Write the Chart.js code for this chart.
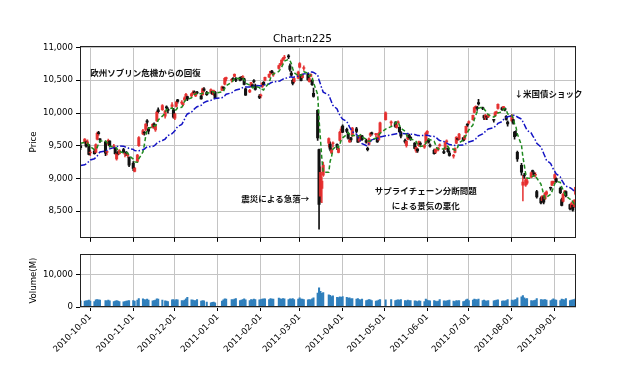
<!DOCTYPE html>
<html>
<head>
<meta charset="utf-8">
<script src="https://cdn.jsdelivr.net/npm/chart.js@4.4.1/dist/chart.umd.min.js"></script>
<style>
  html, body { margin: 0; padding: 0; background: #fff; }
  #wrap { position: relative; width: 640px; height: 384px; }
  #price { position: absolute; left: 0; top: 0; }
  #vol { position: absolute; left: 0; top: 246px; }
</style>
</head>
<body>
<div id="wrap">
  <canvas id="price" width="640" height="246"></canvas>
  <canvas id="vol" width="640" height="138"></canvas>
</div>
<script>
// ---- data (Nikkei 225, daily) ----
const dates = [
  '2010-09-24','2010-09-27','2010-09-28','2010-09-29','2010-09-30',
  '2010-10-01','2010-10-04','2010-10-05','2010-10-06','2010-10-07','2010-10-08','2010-10-12','2010-10-13','2010-10-14','2010-10-15',
  '2010-10-18','2010-10-19','2010-10-20','2010-10-21','2010-10-22','2010-10-25','2010-10-26','2010-10-27','2010-10-28','2010-10-29',
  '2010-11-01','2010-11-02','2010-11-04','2010-11-05','2010-11-08','2010-11-09','2010-11-10','2010-11-11','2010-11-12','2010-11-15',
  '2010-11-16','2010-11-17','2010-11-18','2010-11-19','2010-11-22','2010-11-24','2010-11-25','2010-11-26','2010-11-29','2010-11-30',
  '2010-12-01','2010-12-02','2010-12-03','2010-12-06','2010-12-07','2010-12-08','2010-12-09','2010-12-10','2010-12-13','2010-12-14',
  '2010-12-15','2010-12-16','2010-12-17','2010-12-20','2010-12-21','2010-12-22','2010-12-24','2010-12-27','2010-12-28','2010-12-29','2010-12-30',
  '2011-01-04','2011-01-05','2011-01-06','2011-01-07','2011-01-11','2011-01-12','2011-01-13','2011-01-14','2011-01-17','2011-01-18',
  '2011-01-19','2011-01-20','2011-01-21','2011-01-24','2011-01-25','2011-01-26','2011-01-27','2011-01-28','2011-01-31',
  '2011-02-01','2011-02-02','2011-02-03','2011-02-04','2011-02-07','2011-02-08','2011-02-09','2011-02-10','2011-02-14','2011-02-15',
  '2011-02-16','2011-02-17','2011-02-18','2011-02-21','2011-02-22','2011-02-23','2011-02-24','2011-02-25','2011-02-28',
  '2011-03-01','2011-03-02','2011-03-03','2011-03-04','2011-03-07','2011-03-08','2011-03-09','2011-03-10','2011-03-11','2011-03-14',
  '2011-03-15','2011-03-16','2011-03-17','2011-03-18','2011-03-22','2011-03-23','2011-03-24','2011-03-25','2011-03-28','2011-03-29','2011-03-30','2011-03-31',
  '2011-04-01','2011-04-04','2011-04-05','2011-04-06','2011-04-07','2011-04-08','2011-04-11','2011-04-12','2011-04-13','2011-04-14',
  '2011-04-15','2011-04-18','2011-04-19','2011-04-20','2011-04-21','2011-04-22','2011-04-25','2011-04-26','2011-04-27','2011-04-28',
  '2011-05-02','2011-05-06','2011-05-09','2011-05-10','2011-05-11','2011-05-12','2011-05-13','2011-05-16','2011-05-17','2011-05-18',
  '2011-05-19','2011-05-20','2011-05-23','2011-05-24','2011-05-25','2011-05-26','2011-05-27','2011-05-30','2011-05-31',
  '2011-06-01','2011-06-02','2011-06-03','2011-06-06','2011-06-07','2011-06-08','2011-06-09','2011-06-10','2011-06-13','2011-06-14',
  '2011-06-15','2011-06-16','2011-06-17','2011-06-20','2011-06-21','2011-06-22','2011-06-23','2011-06-24','2011-06-27','2011-06-28','2011-06-29','2011-06-30',
  '2011-07-01','2011-07-04','2011-07-05','2011-07-06','2011-07-07','2011-07-08','2011-07-11','2011-07-12','2011-07-13','2011-07-14',
  '2011-07-15','2011-07-19','2011-07-20','2011-07-21','2011-07-22','2011-07-25','2011-07-26','2011-07-27','2011-07-28','2011-07-29',
  '2011-08-01','2011-08-02','2011-08-03','2011-08-04','2011-08-05','2011-08-08','2011-08-09','2011-08-10','2011-08-11','2011-08-12',
  '2011-08-15','2011-08-16','2011-08-17','2011-08-18','2011-08-19','2011-08-22','2011-08-23','2011-08-24','2011-08-25','2011-08-26','2011-08-29','2011-08-30','2011-08-31',
  '2011-09-01','2011-09-02','2011-09-05','2011-09-06','2011-09-07','2011-09-08','2011-09-09','2011-09-12','2011-09-13','2011-09-14','2011-09-15','2011-09-16'
];

const opens = [
  9500,9560,9560,9530,9510,
  9390,9420,9400,9600,9700,9600,9560,9400,9520,9570,9480,9460,9300,9400,9380,9440,9370,9390,9350,9320,
  9230,9110,9260,9500,9680,9700,9750,9880,9760,9780,9830,9740,9880,10050,10050,9950,10090,10050,10100,10050,
  9920,10100,10200,10150,10130,10200,10260,10250,10260,10300,10320,10260,10310,10260,10280,10370,10310,10320,10330,10280,10320,
  10350,10390,10440,10520,10500,10530,10560,10520,10540,10520,10540,10520,10370,10320,10410,10430,10490,10420,10260,
  10260,10400,10470,10500,10550,10610,10640,10580,10680,10740,10740,10820,10840,10870,10720,10610,10500,10480,10530,
  10700,10580,10540,10680,10600,10480,10560,10500,10300,10040,9440,8730,8850,9050,9540,9520,9390,9530,9520,9400,9580,9730,
  9800,9750,9690,9560,9620,9650,9760,9650,9570,9600,9650,9580,9460,9520,9660,9690,9670,9620,9590,9700,
  9900,9850,9850,9780,9850,9780,9700,9580,9500,9600,9660,9630,9540,9420,9450,9500,9540,9480,9540,
  9690,9590,9510,9430,9400,9440,9450,9500,9410,9450,9560,9460,9390,9340,9400,9540,9600,9600,9620,9600,9700,9820,
  9850,9900,10010,10080,10090,10160,10080,9960,9930,9940,9940,9890,9960,10000,10070,10080,10070,10070,9950,9860,
  9880,9900,9710,9690,9400,9200,8900,9050,8900,8930,9020,9110,9080,9050,8800,8700,8660,8720,8690,8760,8860,8900,8930,
  9000,9000,8850,8680,8650,8780,8800,8600,8560,8590,8570,8760
];
const highs = [
  9520,9610,9575,9590,9520,
  9430,9440,9530,9710,9720,9610,9570,9420,9600,9580,9520,9470,9390,9420,9440,9460,9390,9410,9380,9330,
  9260,9170,9370,9640,9750,9720,9840,9900,9780,9840,9850,9830,10030,10080,10130,10040,10110,10080,10160,10070,
  10000,10180,10210,10190,10160,10250,10300,10260,10300,10340,10340,10320,10330,10270,10380,10390,10330,10370,10340,10350,10330,
  10410,10400,10540,10550,10520,10540,10600,10540,10550,10560,10570,10530,10380,10360,10470,10440,10510,10440,10280,
  10290,10460,10480,10550,10600,10640,10650,10620,10730,10760,10810,10850,10880,10891,10750,10640,10520,10540,10640,
  10770,10590,10600,10720,10610,10560,10600,10510,10380,10050,9450,9180,9020,9250,9620,9560,9470,9560,9530,9470,9720,9790,
  9820,9770,9700,9610,9630,9780,9780,9660,9650,9660,9660,9600,9480,9620,9700,9710,9690,9630,9700,9860,
  10017,9880,9870,9830,9880,9790,9720,9600,9580,9670,9680,9640,9550,9490,9460,9570,9560,9520,9700,
  9730,9610,9530,9450,9450,9460,9480,9530,9440,9560,9590,9470,9420,9370,9470,9640,9620,9690,9630,9660,9800,9840,
  9880,9970,10090,10110,10100,10207,10090,9970,9980,9960,9980,9900,10020,10030,10140,10090,10100,10080,9960,9880,
  9980,9910,9720,9730,9420,9230,9050,9080,9010,9000,9100,9130,9100,9090,8820,8720,8740,8730,8790,8810,8870,8960,8960,
  9070,9010,8870,8700,8770,8820,8810,8610,8640,8600,8680,8870
];
const lows = [
  9440,9540,9480,9500,9360,
  9350,9370,9390,9590,9660,9550,9350,9360,9510,9480,9460,9370,9280,9360,9370,9390,9330,9350,9320,9180,
  9120,9100,9250,9490,9670,9660,9730,9800,9680,9770,9770,9720,9870,10000,10040,9920,10050,10000,10080,9920,
  9900,10090,10150,10130,10110,10180,10240,10190,10250,10290,10290,10250,10290,10210,10270,10330,10270,10300,10280,10270,10220,
  10340,10350,10430,10490,10470,10490,10550,10480,10490,10500,10530,10430,10270,10310,10400,10390,10460,10350,10220,
  10230,10390,10420,10490,10540,10590,10600,10560,10670,10720,10730,10800,10820,10830,10640,10560,10430,10460,10520,
  10690,10490,10530,10650,10500,10470,10550,10420,10240,9580,8227,8640,8630,9030,9480,9420,9380,9480,9440,9390,9570,9700,
  9700,9700,9600,9550,9560,9640,9700,9550,9560,9580,9580,9540,9420,9510,9640,9660,9640,9550,9580,9690,
  9890,9800,9780,9770,9840,9700,9620,9540,9480,9590,9600,9580,9450,9400,9400,9490,9500,9460,9530,
  9670,9540,9480,9370,9380,9420,9420,9490,9380,9440,9540,9400,9340,9310,9390,9530,9580,9590,9570,9590,9690,9790,
  9830,9890,10000,10070,10040,10120,10050,9900,9900,9900,9930,9860,9950,9990,10060,10040,10050,10030,9890,9800,
  9870,9830,9600,9650,9260,9050,8656,9000,8880,8910,9010,9080,9040,9020,8700,8610,8640,8610,8680,8750,8820,8890,8920,
  8980,8940,8770,8580,8640,8770,8720,8520,8540,8500,8560,8750
];
const closes = [
  9471,9603,9495,9559,9369,
  9404,9381,9518,9691,9684,9589,9388,9403,9583,9500,9498,9381,9381,9376,9426,9401,9377,9387,9366,9202,
  9154,9159,9358,9625,9732,9694,9830,9861,9724,9827,9797,9811,10013,10022,10115,10030,10079,10039,10125,9937,
  9988,10168,10178,10167,10141,10232,10285,10211,10293,10316,10309,10311,10303,10216,10370,10346,10279,10356,10292,10344,10228,
  10398,10380,10529,10541,10510,10512,10589,10499,10502,10518,10557,10437,10274,10345,10464,10401,10478,10360,10237,
  10274,10457,10431,10543,10592,10635,10617,10605,10725,10746,10808,10836,10842,10857,10664,10579,10452,10527,10624,
  10754,10492,10586,10693,10505,10525,10589,10434,10254,9620,8605,9093,8962,9206,9608,9449,9435,9536,9478,9459,9708,9755,
  9708,9718,9615,9584,9590,9768,9720,9556,9642,9653,9591,9556,9441,9606,9685,9682,9671,9558,9691,9849,
  10004,9859,9794,9818,9864,9716,9648,9558,9567,9662,9620,9607,9460,9477,9422,9562,9521,9504,9694,
  9719,9555,9492,9380,9442,9449,9467,9514,9391,9547,9574,9411,9351,9354,9459,9629,9597,9678,9578,9648,9797,9816,
  9868,9965,10082,10100,10071,10138,10069,9925,9963,9936,9974,9889,10005,10010,10132,10050,10097,10047,9902,9833,
  9965,9845,9637,9659,9299,9097,8944,9038,8981,8964,9086,9107,9058,9057,8719,8628,8733,8639,8772,8797,8851,8954,8955,
  9060,8950,8784,8590,8763,8793,8737,8535,8616,8518,8668,8864
];
// trading volume, millions of shares
const volumes = [
  1900,1800,1900,2000,2100,
  1800,1700,2200,2300,2200,2100,2000,1900,2100,1900,1700,1800,2000,1800,1700,1600,1700,1800,1900,2000,
  2000,1800,2100,2600,2500,2300,2200,2400,2100,1900,2000,2100,2500,2400,2100,1900,1800,1700,2200,2300,
  2000,2300,2200,2000,1900,2100,2500,3000,2200,2100,2000,2000,2300,1800,2000,1900,1500,1300,1400,1500,1300,
  1800,2200,2500,2400,2300,2200,2400,2600,2000,2100,2300,2500,2200,2000,2300,2200,2400,2300,2200,
  2300,2400,2500,2500,2300,2600,2400,2400,2700,2500,2400,2600,2500,2300,2500,2400,2600,2300,2400,
  2800,2400,2400,2300,2200,2300,2200,2500,2800,4300,5900,4800,4200,4400,3700,3600,3200,3400,3000,2900,3100,3000,
  3200,3000,2700,2800,2500,2600,2400,2600,2300,2200,2400,2000,2100,2300,2200,2000,1800,1900,2100,2300,
  2200,2300,2000,2100,2200,2100,2300,2000,1900,2100,2000,2000,1900,1800,1700,1900,1800,1700,2400,
  2100,2000,1900,2000,1800,1700,1800,2300,1900,1800,1900,2000,2100,1800,1700,2000,1900,2000,1700,1800,2200,2400,
  2000,2100,2400,2300,2200,2400,2000,2100,1900,1800,2000,1900,2000,2100,2200,1800,1900,1800,2000,2300,
  2100,2000,2200,2300,2800,3100,3500,2800,2500,2600,2000,1900,2000,2100,2600,2300,2200,2200,2300,2100,2000,2200,2500,
  2200,2100,2000,2400,2300,2200,2600,2000,2100,2200,2300,2500
];
// closes before the first date, only used to start the moving averages
const warmupCloses = [9362,9179,9116,8845,8845,8906,8991,9149,8824,8927,9062,9114,
                      9301,9226,9024,9098,9239,9275,9299,9516,9540,9509,9602,9566];

const xTickLabels = ['2010-10-01','2010-11-01','2010-12-01','2011-01-01','2011-02-01','2011-03-01',
                     '2011-04-01','2011-05-01','2011-06-01','2011-07-01','2011-08-01','2011-09-01'];
const priceTicks = [8500, 9000, 9500, 10000, 10500, 11000];
const volumeTicks = [0, 10000];
const shortSpan = 5, longSpan = 25;

const notes = [
  { lines: ['欧州ソブリン危機からの回復'], date: '2010-10-01', price: 10615, align: 'left' },
  { lines: ['震災による急落→'], date: '2011-03-08', price: 8683, align: 'right' },
  { lines: ['サプライチェーン分断問題', 'による景気の悪化'], date: '2011-05-31', price: 8693, align: 'center' },
  { lines: ['↓米国債ショック'], date: '2011-08-03', price: 10298, align: 'left' }
];

// ---- helpers ----
const T0 = Date.UTC(2010, 8, 24);
function dayOf(s) {
  const [y, m, d] = s.split('-').map(Number);
  return (Date.UTC(y, m - 1, d) - T0) / 86400000;
}
const xs = dates.map(dayOf);
const allCloses = warmupCloses.concat(closes);
function movingAverage(n) {
  return closes.map((_, i) => {
    const end = warmupCloses.length + i + 1;
    const win = allCloses.slice(end - n, end);
    return win.reduce((a, b) => a + b, 0) / n;
  });
}
const maShort = movingAverage(shortSpan);
const maLong = movingAverage(longSpan);

const GRID = '#c4c4c4';
const UP = 'rgba(230,45,45,0.9)';
const DOWN = '#111';
const candleColor = ctx => closes[ctx.dataIndex] >= opens[ctx.dataIndex] ? UP : DOWN;

Chart.defaults.font.family = 'DejaVu Sans';
Chart.defaults.font.size = 8.6;
Chart.defaults.color = '#000';

function xAxis(showLabels, height) {
  return {
    type: 'linear',
    min: -0.4,
    max: 357.3,
    offset: false,
    afterBuildTicks: s => { s.ticks = xTickLabels.map(l => ({ value: dayOf(l) })); },
    ticks: {
      display: showLabels, autoSkip: false, minRotation: 45, maxRotation: 45, padding: 1,
      callback: (v, i) => xTickLabels[i]
    },
    grid: { color: GRID, offset: false, tickLength: 4, tickColor: '#000' },
    border: { display: false },
    afterFit: s => { s.height = height; }
  };
}

const framePlugin = {
  id: 'frame',
  afterDraw(chart) {
    const a = chart.chartArea, ctx = chart.ctx;
    ctx.save();
    ctx.strokeStyle = '#222';
    ctx.lineWidth = 1;
    ctx.strokeRect(Math.round(a.left) + 0.5, Math.round(a.top) + 0.5,
                   Math.round(a.right - a.left) - 1, Math.round(a.bottom - a.top) - 1);
    ctx.restore();
  }
};

const notePlugin = {
  id: 'notes',
  afterDatasetsDraw(chart) {
    const { ctx, scales: { x, y } } = chart;
    ctx.save();
    ctx.font = 'bold 8.5px "Noto Sans CJK JP"';
    ctx.fillStyle = '#111';
    ctx.textBaseline = 'middle';
    notes.forEach(n => {
      ctx.textAlign = n.align;
      const px = x.getPixelForValue(dayOf(n.date));
      const py = y.getPixelForValue(n.price);
      n.lines.forEach((t, k) => ctx.fillText(t, px, py + (k - (n.lines.length - 1) / 2) * 14.7));
    });
    ctx.restore();
  }
};

// ---- price chart ----
new Chart(document.getElementById('price'), {
  type: 'bar',
  data: {
    datasets: [
      {
        type: 'line', label: 'MA' + shortSpan,
        data: xs.map((x, i) => ({ x, y: maShort[i] })),
        borderColor: '#1f8a1f', borderWidth: 1.5, borderDash: [4, 2.5],
        pointRadius: 0, fill: false, tension: 0, order: 0
      },
      {
        type: 'line', label: 'MA' + longSpan,
        data: xs.map((x, i) => ({ x, y: maLong[i] })),
        borderColor: '#1414c4', borderWidth: 1.5, borderDash: [6, 2, 1.5, 2],
        pointRadius: 0, fill: false, tension: 0, order: 0
      },
      {
        label: 'wick',
        data: xs.map((x, i) => ({ x, y: [lows[i], highs[i]] })),
        backgroundColor: candleColor, borderWidth: 0,
        barThickness: 1, grouped: false, order: 2
      },
      {
        label: 'body',
        data: xs.map((x, i) => ({ x, y: [opens[i], closes[i]] })),
        backgroundColor: candleColor, borderWidth: 0, minBarLength: 1,
        barThickness: 2.4, grouped: false, order: 1
      }
    ]
  },
  options: {
    responsive: false,
    animation: false,
    layout: { padding: { left: 29, right: 64, top: 0, bottom: 0 } },
    plugins: {
      legend: { display: false },
      tooltip: { enabled: false },
      title: {
        display: true, text: 'Chart:n225', color: '#000',
        font: { family: 'DejaVu Sans', size: 10.5, weight: 'normal' },
        padding: { top: 32.5, bottom: 0.9 }
      }
    },
    scales: {
      x: xAxis(false, 6),
      y: {
        min: 8094, max: 11023,
        afterBuildTicks: s => { s.ticks = priceTicks.map(v => ({ value: v })); },
        ticks: { padding: 3, callback: v => v.toLocaleString('en-US') },
        grid: { color: GRID, tickLength: 4, tickColor: '#000' },
        border: { display: false },
        title: { display: true, text: 'Price', padding: 0 },
        afterFit: s => { s.width = 51; }
      }
    }
  },
  plugins: [notePlugin, framePlugin]
});

// ---- volume chart ----
new Chart(document.getElementById('vol'), {
  type: 'bar',
  data: {
    datasets: [{
      label: 'Volume',
      data: xs.map((x, i) => ({ x, y: volumes[i] })),
      backgroundColor: '#2f7fbc', borderWidth: 0,
      barThickness: 1.4, grouped: false
    }]
  },
  options: {
    responsive: false,
    animation: false,
    layout: { padding: { left: 29, right: 64, top: 5, bottom: 0 } },
    plugins: { legend: { display: false }, tooltip: { enabled: false } },
    scales: {
      x: xAxis(true, 77),
      y: {
        min: 0, max: 16200,
        afterBuildTicks: s => { s.ticks = volumeTicks.map(v => ({ value: v })); },
        ticks: { padding: 3, callback: v => v.toLocaleString('en-US') },
        grid: { color: GRID, tickLength: 4, tickColor: '#000' },
        border: { display: false },
        title: { display: true, text: 'Volume(M)', padding: 0 },
        afterFit: s => { s.width = 51; }
      }
    }
  },
  plugins: [framePlugin]
});
</script>
</body>
</html>
